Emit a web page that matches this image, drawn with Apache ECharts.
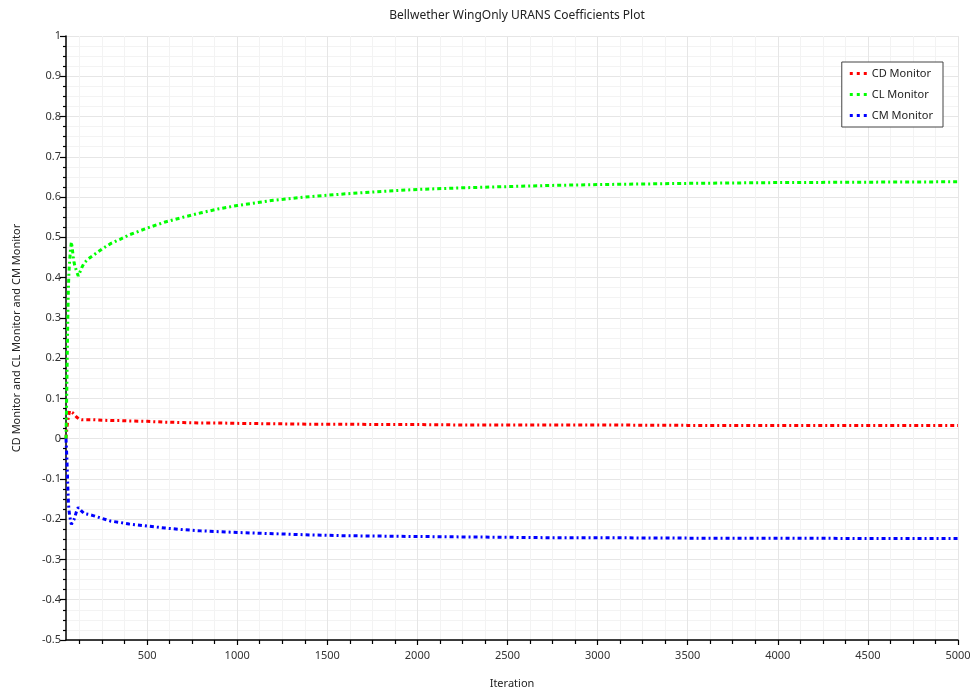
<!DOCTYPE html>
<html>
<head>
<meta charset="utf-8">
<script src="https://cdn.jsdelivr.net/npm/echarts@6/dist/echarts.min.js"></script>
<style>html,body{margin:0;padding:0;background:#fff}#c{width:974px;height:694px}</style>
</head>
<body>
<div id="c"></div>
<script>
const iterations = [50, 52, 55, 58, 60, 63, 66, 70, 75, 80, 85, 90, 95, 100, 110, 118, 125, 137, 150, 175, 200, 250, 300, 350, 400, 500, 600, 700, 800, 900, 1000, 1200, 1400, 1600, 1800, 2000, 2250, 2500, 2750, 3000, 3500, 4000, 4500, 5000];
const cdMonitor = [0.0, 0.012, 0.025, 0.038, 0.045, 0.053, 0.06, 0.069, 0.072, 0.069, 0.065, 0.062, 0.06, 0.058, 0.053, 0.049, 0.048, 0.047, 0.047, 0.047, 0.047, 0.046, 0.045, 0.045, 0.044, 0.043, 0.041, 0.040, 0.039, 0.039, 0.038, 0.037, 0.036, 0.036, 0.035, 0.035, 0.034, 0.034, 0.034, 0.034, 0.033, 0.033, 0.033, 0.033];
const clMonitor = [0.0, 0.05, 0.14, 0.24, 0.30, 0.37, 0.41, 0.44, 0.47, 0.488, 0.472, 0.452, 0.437, 0.428, 0.414, 0.404, 0.408, 0.424, 0.436, 0.447, 0.455, 0.471, 0.485, 0.495, 0.506, 0.523, 0.538, 0.550, 0.561, 0.571, 0.579, 0.592, 0.601, 0.608, 0.614, 0.619, 0.623, 0.626, 0.629, 0.631, 0.634, 0.636, 0.637, 0.638];
const cmMonitor = [0.0, -0.02, -0.05, -0.09, -0.12, -0.155, -0.175, -0.19, -0.203, -0.213, -0.216, -0.21, -0.2, -0.193, -0.178, -0.171, -0.169, -0.18, -0.186, -0.188, -0.191, -0.198, -0.205, -0.208, -0.212, -0.217, -0.222, -0.226, -0.229, -0.231, -0.233, -0.236, -0.239, -0.241, -0.242, -0.243, -0.244, -0.245, -0.246, -0.246, -0.247, -0.247, -0.248, -0.248];
const xMajorTicks = [500, 1000, 1500, 2000, 2500, 3000, 3500, 4000, 4500, 5000];
const xMinorTicks = [125, 250, 375, 625, 750, 875, 1125, 1250, 1375, 1625, 1750, 1875, 2125, 2250, 2375, 2625, 2750, 2875, 3125, 3250, 3375, 3625, 3750, 3875, 4125, 4250, 4375, 4625, 4750, 4875];

const FONT = 'Noto Sans';
const pair = arr => iterations.map((x, i) => [x, arr[i]]);
const dash = [4, 3, 2, 3];
function mkSeries(name, color, data) {
  return {
    name, type: 'line', data: pair(data), showSymbol: false, symbol: 'none',
    smooth: false, animation: false, xAxisIndex: 0,
    lineStyle: { color, width: 3, type: dash },
    itemStyle: { color }
  };
}
const legendIcon = 'path://M0,0 L3,0 L3,3 L0,3 Z M7,0 L10,0 L10,3 L7,3 Z M14,0 L17,0 L17,3 L14,3 Z';
const chart = echarts.init(document.getElementById('c'));
chart.setOption({
  animation: false,
  textStyle: { fontFamily: FONT },
  title: {
    text: 'Bellwether WingOnly URANS Coefficients Plot',
    left: 512, top: 5, textAlign: 'center',
    textStyle: { fontSize: 12, fontWeight: 'normal', color: '#222', fontFamily: FONT }
  },
  legend: {
    orient: 'vertical', right: 31, top: 62,
    backgroundColor: '#fff', borderColor: '#444', borderWidth: 1,
    padding: [6, 10, 6, 8], itemWidth: 17, itemHeight: 3, itemGap: 10,
    icon: legendIcon,
    textStyle: { fontSize: 11, color: '#222', fontFamily: FONT },
    data: ['CD Monitor', 'CL Monitor', 'CM Monitor']
  },
  grid: { left: 66, right: 16, top: 36, bottom: 51, containLabel: false },
  xAxis: [
    {
      type: 'value', min: 50, max: 5000,
      name: 'Iteration', nameLocation: 'middle', nameGap: 38,
      nameTextStyle: { fontSize: 11, color: '#222' },
      axisLine: { show: true, onZero: false, lineStyle: { color: '#000', width: 1.5 } },
      axisTick: { show: true, length: 5, customValues: xMajorTicks, lineStyle: { color: '#000', width: 1.2 } },
      axisLabel: { customValues: xMajorTicks, fontSize: 11, color: '#333', margin: 10, formatter: v => String(v) },
      splitLine: { show: true, lineStyle: { color: '#e6e6e6', width: 1 } }
    },
    {
      type: 'value', min: 50, max: 5000, position: 'bottom',
      axisLine: { show: false, onZero: false },
      axisTick: { show: true, length: 4, customValues: xMinorTicks, lineStyle: { color: '#000', width: 1.2 } },
      axisLabel: { show: false, customValues: xMinorTicks },
      splitLine: { show: true, lineStyle: { color: '#f3f3f3', width: 1 } }
    }
  ],
  yAxis: {
    type: 'value', min: -0.5, max: 1, interval: 0.1,
    name: 'CD Monitor and CL Monitor and CM Monitor', nameLocation: 'middle', nameGap: 44,
    nameTextStyle: { fontSize: 11, color: '#222' },
    axisLine: { show: true, onZero: false, lineStyle: { color: '#000', width: 1.5 } },
    axisTick: { show: true, length: 6, lineStyle: { color: '#000', width: 1.2 } },
    minorTick: { show: true, splitNumber: 4, length: 3, lineStyle: { color: '#000', width: 1.2 } },
    axisLabel: { fontSize: 11, color: '#333', margin: 5, formatter: v => String(Math.round(v * 10) / 10) },
    splitLine: { show: true, lineStyle: { color: '#e6e6e6', width: 1 } },
    minorSplitLine: { show: true, lineStyle: { color: '#f3f3f3', width: 1 } }
  },
  series: [
    mkSeries('CD Monitor', '#ff0000', cdMonitor),
    mkSeries('CL Monitor', '#00ff00', clMonitor),
    mkSeries('CM Monitor', '#0000ff', cmMonitor)
  ]
});
</script>
</body>
</html>
